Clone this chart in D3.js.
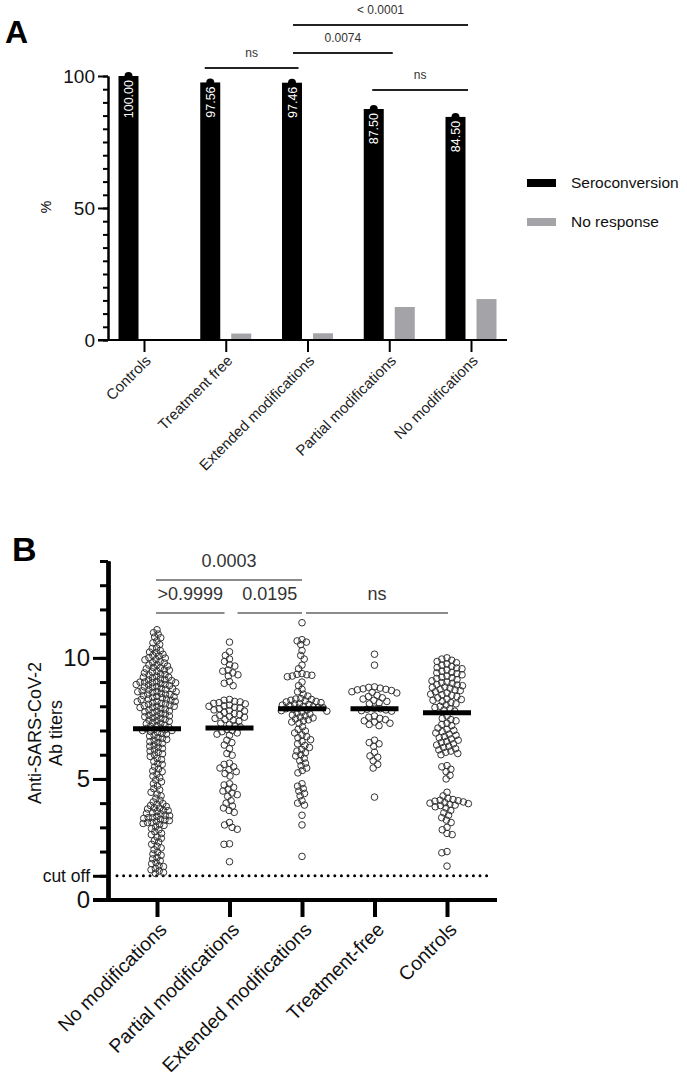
<!DOCTYPE html>
<html><head><meta charset="utf-8">
<script src="https://cdn.jsdelivr.net/npm/d3@7"></script>
<style>body{margin:0;background:#fff}svg{display:block}</style>
</head><body><svg id="c" width="687" height="1080"></svg>
<script>
// ---------- Panel A data ----------
const catsA = ["Controls","Treatment free","Extended modifications","Partial modifications","No modifications"];
const seroconversion = [100.00, 97.56, 97.46, 87.50, 84.50];
const noResponse = [0, 2.44, 2.54, 12.50, 15.50];
const seroLabels = ["100.00","97.56","97.46","87.50","84.50"];
const ticksA = [0, 50, 100];
const legendA = ["Seroconversion","No response"];
const compsA = [
  ["Partial modifications","No modifications","ns"],
  ["Treatment free","Extended modifications","ns"],
  ["Extended modifications","Partial modifications","0.0074"],
  ["Extended modifications","No modifications","< 0.0001"]
];

// ---------- Panel B data ----------
const catsB = ["No modifications","Partial modifications","Extended modifications","Treatment-free","Controls"];
const noModifications = [
11.16,11.04,10.98,10.86,10.83,10.7,10.62,10.55,10.41,10.39,10.3,10.24,10.22,10.15,10.1,10.07,10.01,
9.99,9.93,9.92,9.85,9.8,9.79,9.71,9.7,9.66,9.6,9.58,9.55,9.5,9.49,9.44,9.42,9.38,9.33,9.31,9.29,9.24,9.2,9.2,9.17,9.13,9.1,9.09,9.06,9.02,9.0,9.0,8.98,
8.97,8.94,8.9,8.9,8.88,8.85,8.81,8.8,8.79,8.74,8.72,8.7,8.68,8.64,8.61,8.6,8.6,8.57,8.53,8.5,8.5,8.48,8.44,8.41,8.4,8.37,8.35,8.3,8.3,8.28,8.25,8.2,8.2,8.19,8.15,8.12,8.1,8.08,8.05,8.02,8.0,8.0,
7.96,7.95,7.9,7.88,7.85,7.8,7.8,7.77,7.73,7.7,7.68,7.63,7.6,7.6,7.57,7.52,7.5,7.46,7.43,7.4,7.38,7.33,7.3,7.28,7.22,7.2,7.17,7.13,7.1,7.08,7.05,7.03,7.0,7.0,
6.96,6.92,6.88,6.85,6.8,6.77,6.7,6.68,6.63,6.6,6.54,6.5,6.47,6.4,6.35,6.31,6.26,6.2,6.15,6.1,6.04,6.0,
5.93,5.85,5.8,5.72,5.63,5.6,5.5,5.41,5.33,5.3,5.2,5.12,5.05,
4.96,4.88,4.8,4.71,4.6,4.55,4.45,4.38,4.3,4.2,4.12,4.05,
3.98,3.95,3.9,3.86,3.8,3.8,3.76,3.7,3.69,3.65,3.6,3.58,3.55,3.5,3.48,3.45,3.4,3.4,3.37,3.33,3.3,3.28,3.25,3.2,3.2,3.16,3.12,3.08,3.03,
2.95,2.9,2.82,2.75,2.7,2.6,2.55,2.45,2.4,2.3,2.22,2.15,2.08,
1.97,1.9,1.85,1.75,1.7,1.62,1.55,1.5,1.41,1.38,1.3,1.25,1.2,1.14,1.1];
const partialModifications = [
10.65,10.25,10.1,9.95,9.85,9.72,9.66,9.5,9.45,9.38,9.3,9.25,9.02,8.95,8.85,
8.28,8.25,8.2,8.18,8.15,8.12,8.1,8.05,8.02,8.0,7.96,7.93,7.9,7.85,7.82,7.8,7.75,7.7,7.66,7.62,7.58,7.55,7.5,7.45,7.42,7.38,7.3,7.25,7.2,7.15,7.05,7.0,6.95,6.9,6.85,6.8,
6.6,6.5,6.4,6.25,6.05,5.98,
5.65,5.6,5.5,5.45,5.38,5.3,5.22,5.12,
4.8,4.75,4.65,4.58,4.5,4.42,4.35,4.28,
4.1,4.0,3.88,3.8,3.7,3.62,
3.2,3.1,3.0,2.92,
2.32,2.3,
1.58];
const extendedModifications = [
11.45,10.75,10.7,10.65,10.55,10.3,10.1,9.95,9.7,9.55,9.35,9.32,9.3,9.28,9.25,9.22,9.0,8.85,8.7,8.6,8.5,8.42,
8.32,8.3,8.28,8.25,8.22,8.2,8.18,8.15,8.12,8.1,8.08,8.05,8.03,8.0,7.98,7.96,7.94,7.92,7.9,7.88,7.85,7.82,7.8,
7.76,7.72,7.68,7.64,7.6,7.56,7.52,7.48,7.44,7.4,7.35,7.3,
7.15,7.05,6.98,6.9,6.82,6.75,6.7,6.62,
6.55,6.45,6.38,6.3,6.22,6.15,6.08,6.0,5.95,
5.85,5.75,5.65,5.55,5.45,5.35,5.25,
4.8,4.7,4.6,4.5,4.4,4.3,
4.1,4.0,3.92,
3.5,3.1,
1.8];
const treatmentFree = [
10.15,9.7,
8.8,8.78,8.75,8.72,8.7,8.68,8.65,8.6,8.58,8.55,
8.45,8.4,8.35,8.3,8.25,8.2,8.15,8.1,
7.92,7.9,7.88,7.85,7.82,7.8,
7.6,7.55,7.5,7.45,7.4,7.35,7.3,7.25,7.2,
6.6,6.5,6.45,6.35,
6.1,5.95,5.9,5.75,5.6,5.45,
4.25];
const controls = [
10.0,9.95,9.9,9.85,9.8,9.75,9.7,9.65,9.6,9.58,9.55,9.5,9.45,9.4,9.38,9.35,9.3,9.25,9.2,9.18,9.15,9.1,9.05,9.0,8.98,8.95,8.9,8.88,8.85,8.8,8.78,8.75,8.7,8.68,8.65,8.6,8.55,8.5,8.48,8.45,8.4,8.35,8.3,8.28,8.25,8.2,8.15,8.1,8.05,8.0,7.95,7.9,7.85,7.8,
7.6,7.5,7.45,7.4,7.3,7.25,7.2,7.1,7.05,7.0,6.95,6.9,6.85,6.8,6.75,6.7,6.65,6.6,6.55,6.5,6.45,6.4,6.35,6.3,6.25,6.2,6.15,6.1,6.05,6.0,
5.55,5.5,5.4,5.3,5.15,5.0,
4.45,4.3,4.2,4.15,4.12,4.1,4.08,4.05,4.02,4.0,3.98,3.95,3.92,3.9,3.85,3.8,3.7,3.6,3.5,3.4,3.3,3.2,
3.0,2.9,2.75,2.7,
2.0,1.95,1.4];
const groupsB = [noModifications, partialModifications, extendedModifications, treatmentFree, controls];
const meansB = [7.07, 7.10, 7.90, 7.90, 7.73];
const cutOff = 1;
const ticksB = [0, 5, 10];
const compsB = [
  ["No modifications","Extended modifications","0.0003"],
  ["No modifications","Partial modifications",">0.9999"],
  ["Partial modifications","Extended modifications","0.0195"],
  ["Extended modifications","Controls","ns"]
];

// ---------- drawing ----------
const FONT = "'Liberation Sans', Arial, sans-serif";
const svg = d3.select("#c");

// ===== Panel A =====
const xA = d3.scalePoint().domain(catsA).range([144, 471]);
const yA = d3.scaleLinear().domain([0, 100]).range([340, 76]);
const gA = svg.append("g");

svg.append("text").attr("x", 5).attr("y", 43).attr("font-family", FONT)
  .attr("font-weight", "bold").attr("font-size", 32).text("A");

const bw = 20, off = 25.5;
gA.selectAll("rect.sero").data(catsA).join("rect").attr("class", "sero")
  .attr("x", c => xA(c) - off).attr("y", (c, i) => yA(seroconversion[i]))
  .attr("width", bw).attr("height", (c, i) => yA(0) - yA(seroconversion[i]))
  .attr("fill", "#000");
gA.selectAll("circle.sero").data(catsA).join("circle").attr("class", "sero")
  .attr("cx", c => xA(c) - off + bw / 2).attr("cy", (c, i) => yA(seroconversion[i]))
  .attr("r", 4).attr("fill", "#000");
gA.selectAll("rect.nr").data(catsA).join("rect").attr("class", "nr")
  .attr("x", c => xA(c) + 5.5).attr("y", (c, i) => yA(noResponse[i]))
  .attr("width", bw).attr("height", (c, i) => yA(0) - yA(noResponse[i]))
  .attr("fill", "#a3a3a8");
gA.selectAll("text.val").data(catsA).join("text").attr("class", "val")
  .attr("transform", (c, i) => `translate(${xA(c) - off + bw / 2},${yA(seroconversion[i]) + 4}) rotate(-90)`)
  .attr("text-anchor", "end").attr("dy", "0.36em").attr("fill", "#fff")
  .attr("font-family", FONT).attr("font-size", 12.5).text((c, i) => seroLabels[i]);

// y axis A
const axA = gA.append("g").attr("transform", "translate(108,0)");
axA.call(d3.axisLeft(yA).tickValues(d3.range(0, 101, 5)).tickSize(5).tickFormat("").tickSizeOuter(0));
axA.append("g").call(d3.axisLeft(yA).tickValues(ticksA).tickSize(10).tickPadding(3).tickSizeOuter(0));
axA.selectAll("path.domain").attr("stroke-width", 2).attr("stroke", "#000");
axA.selectAll(".tick line").attr("stroke-width", 2).attr("stroke", "#000");
axA.selectAll("text").attr("font-family", FONT).attr("font-size", 19).attr("fill", "#111");
gA.append("text").attr("transform", "translate(46,207) rotate(-90)").attr("text-anchor", "middle")
  .attr("dy", "0.35em").attr("font-family", FONT).attr("font-size", 14).text("%");

// x axis A
const axXA = gA.append("g").attr("transform", "translate(0,340)");
axXA.call(d3.axisBottom(xA).tickSize(12).tickFormat("").tickSizeOuter(0));
axXA.select("path.domain").remove();
axXA.selectAll(".tick line").attr("stroke-width", 2).attr("stroke", "#000");
axXA.append("line").attr("x1", 98).attr("x2", 507).attr("stroke", "#000").attr("stroke-width", 2);
gA.selectAll("text.xl").data(catsA).join("text").attr("class", "xl")
  .attr("transform", c => `translate(${xA(c) + 4},358) rotate(-45)`)
  .attr("text-anchor", "end").attr("dy", "0.35em").attr("font-family", FONT)
  .attr("font-size", 15).attr("fill", "#222").text(c => c);

// significance A
const rowA = [90, 68, 53, 25], padA = [[-17, -3], [-21, -9], [-14.5, 3.5], [-14.5, -3]];
compsA.forEach((cmp, i) => {
  const x1 = xA(cmp[0]) + padA[i][0], x2 = xA(cmp[1]) + padA[i][1];
  gA.append("line").attr("x1", x1).attr("x2", x2).attr("y1", rowA[i]).attr("y2", rowA[i])
    .attr("stroke", "#222").attr("stroke-width", 2);
  gA.append("text").attr("x", (x1 + x2) / 2).attr("y", rowA[i] - 11).attr("text-anchor", "middle")
    .attr("font-family", FONT).attr("font-size", 12).attr("fill", "#333").text(cmp[2]);
});

// legend A
const legCol = ["#000", "#a3a3a8"], legY = [183, 222], legH = [8, 8];
legendA.forEach((l, i) => {
  gA.append("rect").attr("x", 527).attr("y", legY[i] - legH[i] / 2).attr("width", 29).attr("height", legH[i]).attr("fill", legCol[i]);
  gA.append("text").attr("x", 571).attr("y", legY[i]).attr("dy", "0.35em").attr("font-family", FONT)
    .attr("font-size", 15.5).attr("fill", "#111").text(l);
});

// ===== Panel B =====
const xB = d3.scalePoint().domain(catsB).range([157, 447]);
const yB = d3.scaleLinear().domain([0, 14]).range([900, 561]);
const gB = svg.append("g");

svg.append("text").attr("x", 12).attr("y", 561).attr("font-family", FONT)
  .attr("font-weight", "bold").attr("font-size", 34).text("B");

// cut off dotted line
gB.append("line").attr("x1", 117).attr("x2", 493).attr("y1", yB(cutOff)).attr("y2", yB(cutOff))
  .attr("stroke", "#000").attr("stroke-width", 3).attr("stroke-linecap", "round")
  .attr("stroke-dasharray", "0,6.6");

// beeswarm
function swarm(vals, d) {
  const pts = vals.map(v => ({ v, y: yB(v) })).sort((a, b) => a.y - b.y);
  const placed = [];
  for (const p of pts) {
    const near = placed.filter(q => Math.abs(q.y - p.y) < d);
    const cands = [0];
    near.forEach(q => {
      const dx = Math.sqrt(d * d - (q.y - p.y) ** 2);
      cands.push(q.x - dx - 1e-6, q.x + dx + 1e-6);
    });
    cands.sort((a, b) => Math.abs(a) - Math.abs(b));
    for (const c of cands) {
      if (near.every(q => (q.x - c) ** 2 + (q.y - p.y) ** 2 >= d * d - 1e-4)) { p.x = c; break; }
    }
    placed.push(p);
  }
  return placed;
}
const collide = [4.5, 5.5, 5.0, 5.8, 5.3];
groupsB.forEach((vals, gi) => {
  const cx = xB(catsB[gi]);
  const pts = swarm(vals, collide[gi]);
  gB.append("g").selectAll("circle").data(pts).join("circle")
    .attr("cx", p => cx + p.x).attr("cy", p => p.y).attr("r", 3.3)
    .attr("fill", "none").attr("stroke", "#333").attr("stroke-width", 1);
});
// means
gB.selectAll("line.mean").data(catsB).join("line").attr("class", "mean")
  .attr("x1", c => xB(c) - 24).attr("x2", c => xB(c) + 24)
  .attr("y1", (c, i) => yB(meansB[i])).attr("y2", (c, i) => yB(meansB[i]))
  .attr("stroke", "#000").attr("stroke-width", 5);

// y axis B
const axB = gB.append("g").attr("transform", "translate(108,0)");
axB.call(d3.axisLeft(yB).tickValues(d3.range(1, 15)).tickSize(8).tickFormat("").tickSizeOuter(0));
axB.append("g").call(d3.axisLeft(yB).tickValues(ticksB).tickSize(15).tickPadding(3).tickSizeOuter(0));
axB.append("g").call(d3.axisLeft(yB).tickValues([cutOff]).tickSize(15).tickPadding(3).tickFormat(() => "cut off").tickSizeOuter(0));
axB.selectAll("path.domain").attr("stroke-width", 4).attr("stroke", "#000");
axB.selectAll(".tick line").attr("stroke-width", 3).attr("stroke", "#000");
axB.selectAll("text").attr("font-family", FONT).attr("font-size", 24).attr("fill", "#111");
axB.selectAll("text").filter(t => t === cutOff).attr("font-size", 17.5);
gB.append("text").attr("transform", "translate(35,733) rotate(-90)").attr("text-anchor", "middle")
  .attr("dy", "0.35em").attr("font-family", FONT).attr("font-size", 18).attr("fill", "#111").text("Anti-SARS-CoV-2");
gB.append("text").attr("transform", "translate(56,733) rotate(-90)").attr("text-anchor", "middle")
  .attr("dy", "0.35em").attr("font-family", FONT).attr("font-size", 18).attr("fill", "#111").text("Ab titers");

// x axis B
const axXB = gB.append("g").attr("transform", "translate(0,900)");
axXB.call(d3.axisBottom(xB).tickSize(17).tickFormat("").tickSizeOuter(0));
axXB.select("path.domain").remove();
axXB.selectAll(".tick line").attr("stroke-width", 4).attr("stroke", "#000");
axXB.append("line").attr("x1", 93).attr("x2", 497).attr("stroke", "#000").attr("stroke-width", 4);
gB.selectAll("text.xl").data(catsB).join("text").attr("class", "xl")
  .attr("transform", c => `translate(${xB(c) + 6},926) rotate(-45)`)
  .attr("text-anchor", "end").attr("dy", "0.35em").attr("font-family", FONT)
  .attr("font-size", 19.5).attr("fill", "#111").text(c => c);

// significance B
const rowB = [580, 613, 613, 613], padB = [[-1, 0], [-1, -5], [8, 0], [4, 1]];
compsB.forEach((cmp, i) => {
  const x1 = xB(cmp[0]) + padB[i][0], x2 = xB(cmp[1]) + padB[i][1];
  gB.append("line").attr("x1", x1).attr("x2", x2).attr("y1", rowB[i]).attr("y2", rowB[i])
    .attr("stroke", "#666").attr("stroke-width", 1.5);
  gB.append("text").attr("x", (x1 + x2) / 2).attr("y", rowB[i] - 13).attr("text-anchor", "middle")
    .attr("font-family", FONT).attr("font-size", 18).attr("fill", "#333").text(cmp[2]);
});
</script></body></html>
